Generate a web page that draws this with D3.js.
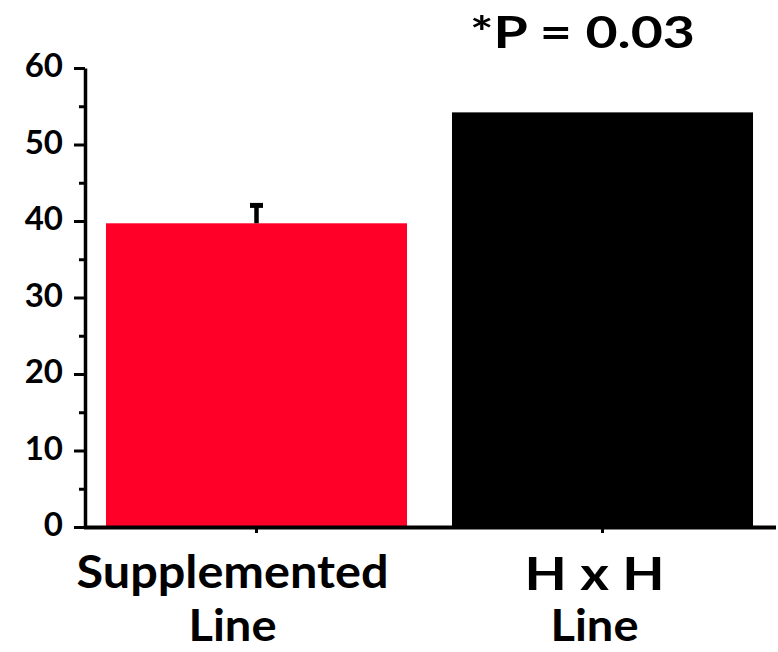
<!DOCTYPE html>
<html>
<head>
<meta charset="utf-8">
<script src="https://cdn.jsdelivr.net/npm/d3@7"></script>
<style>
  html, body { margin: 0; padding: 0; background: #fff; }
  svg { display: block; }
  text { font-family: "Comic Sans MS", "Lato", "DejaVu Sans", sans-serif; font-weight: 700; fill: #000; }
</style>
</head>
<body>
<svg id="chart" width="778" height="652"></svg>
<script>
// Groups shown on the x axis (each label split over two lines)
const categories = ["Supplemented Line", "H x H Line"];
const labelLines = [["Supplemented", "Line"], ["H x H", "Line"]];
// Mean value of each group and its standard error (0 = no bar drawn)
const values = [39.7, 54.2];
const errors = [2.6, 0];
const barColors = ["#ff0028", "#000000"];
// Y axis ticks
const majorTicks = [0, 10, 20, 30, 40, 50, 60];
const minorTicks = [5, 15, 25, 35, 45, 55];
const pLabel = "*P = 0.03";

const svg = d3.select("#chart");

const y = d3.scaleLinear().domain([0, 60]).range([527, 68]);
const x = d3.scaleBand()
  .domain(categories)
  .range([83.5, 775.5])
  .paddingInner(0.13)
  .paddingOuter(0.065);

// Bars
svg.append("g")
  .selectAll("rect")
  .data(categories)
  .join("rect")
  .attr("x", d => x(d))
  .attr("width", x.bandwidth())
  .attr("y", (d, i) => y(values[i]))
  .attr("height", (d, i) => y(0) - y(values[i]))
  .attr("fill", (d, i) => barColors[i]);

// Upper error bars
const errG = svg.append("g");
categories.forEach((c, i) => {
  if (!errors[i]) return;
  const cx = x(c) + x.bandwidth() / 2;
  const top = y(values[i] + errors[i]);
  errG.append("line")
    .attr("x1", cx).attr("x2", cx)
    .attr("y1", y(values[i])).attr("y2", top)
    .attr("stroke", "#000").attr("stroke-width", 4.5);
  errG.append("line")
    .attr("x1", cx - 6.5).attr("x2", cx + 6.5)
    .attr("y1", top + 2).attr("y2", top + 2)
    .attr("stroke", "#000").attr("stroke-width", 5);
});

// Y axis: minor ticks, then major ticks with labels
const yMinor = svg.append("g")
  .attr("transform", "translate(85,0)")
  .call(d3.axisLeft(y).tickValues(minorTicks).tickSize(6).tickSizeOuter(0).tickFormat(""));
yMinor.select(".domain").remove();
yMinor.selectAll("line").attr("stroke", "#000").attr("stroke-width", 3);

const yAxis = svg.append("g")
  .attr("transform", "translate(85,0)")
  .call(d3.axisLeft(y).tickValues(majorTicks).tickSize(11).tickSizeOuter(0).tickPadding(11));
yAxis.select(".domain").attr("stroke", "#000").attr("stroke-width", 3.5);
yAxis.selectAll(".tick line").attr("stroke", "#000").attr("stroke-width", 3);
yAxis.selectAll(".tick text")
  .attr("font-size", 33)
  .attr("dy", "0.26em")
  .attr("fill", "#000");

// X axis
const xAxis = svg.append("g")
  .attr("transform", "translate(0,527)")
  .call(d3.axisBottom(x).tickSize(6).tickSizeOuter(0).tickFormat(""));
xAxis.select(".domain").attr("stroke", "#000").attr("stroke-width", 4);
xAxis.selectAll(".tick line").attr("stroke", "#000").attr("stroke-width", 3);

// Category labels under the axis
const labelNudge = [-24, -8];
const lineWidths = [[312, 88], [140, 88]];
const lineBaselines = [[588, 641], [590, 641]];
const lineSizes = [46, 44];
const labels = svg.append("g");
categories.forEach((c, i) => {
  const cx = x(c) + x.bandwidth() / 2 + labelNudge[i];
  labelLines[i].forEach((t, j) => {
    labels.append("text")
      .attr("x", cx)
      .attr("y", lineBaselines[i][j])
      .attr("text-anchor", "middle")
      .attr("font-size", lineSizes[j])
      .attr("textLength", lineWidths[i][j])
      .attr("lengthAdjust", "spacingAndGlyphs")
      .text(t);
  });
});

// Significance annotation
svg.append("text")
  .attr("x", 470)
  .attr("y", 48)
  .attr("font-size", 43)
  .attr("textLength", 225)
  .attr("lengthAdjust", "spacingAndGlyphs")
  .text(pLabel);
</script>
</body>
</html>
